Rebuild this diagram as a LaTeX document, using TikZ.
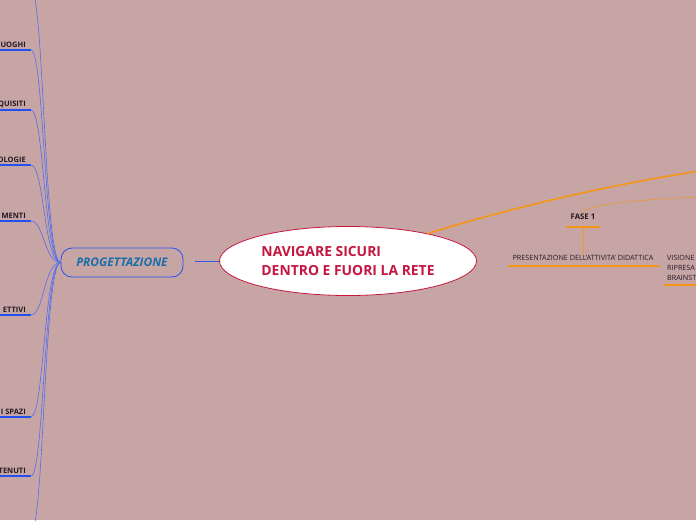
\documentclass[tikz,border=0pt]{standalone}
\usepackage{fontspec}
\setmainfont{Open Sans}
\usetikzlibrary{positioning, shapes.geometric}
\definecolor{nsbg}{RGB}{200,165,165}
\definecolor{nsred}{RGB}{196,22,62}
\definecolor{nsblue}{RGB}{35,80,240}
\definecolor{nsline}{RGB}{80,110,240}
\definecolor{nsteal}{RGB}{25,110,170}
\definecolor{nsorange}{RGB}{245,150,20}
\definecolor{nsdark}{RGB}{35,25,35}

\begin{document}
\begin{tikzpicture}[x=1pt, y=-1pt,
    centro/.style={ellipse, draw=nsred, fill=white, line width=0.8pt, minimum width=257pt, minimum height=69pt, inner sep=0pt, align=left, text=nsred, font=\bfseries\fontsize{13.9}{19}\selectfont},
    tema/.style={rectangle, rounded corners=11pt, draw=nsblue, line width=0.8pt, minimum width=122pt, minimum height=29pt, text=nsteal, font=\bfseries\itshape\fontsize{11.9}{13}\selectfont},
    ramo/.style={nsline, line width=0.6pt},
    sottolinea/.style={nsblue, line width=2pt},
    voce/.style={anchor=south east, inner sep=1pt, text=nsdark, font=\bfseries\fontsize{7.5}{9}\selectfont},
    ramoarancio/.style={nsorange, line width=1.6pt},
    filoarancio/.style={nsorange!80!nsbg, line width=0.6pt},
    lineaarancio/.style={nsorange, line width=2pt},
    piccolo/.style={inner sep=0pt, text=nsdark, font=\fontsize{7.2}{10}\selectfont}]

\useasboundingbox (0,0) rectangle (696,520);
\clip (0,0) rectangle (696,520);
\fill[nsbg] (0,0) rectangle (696,520);

% === Nodo centrale ===
\node[centro] (rete) at (348,261) {NAVIGARE SICURI\\DENTRO E FUORI LA RETE};

% === Progettazione ===
\node[tema] (prog) at (122,262.5) {PROGETTAZIONE};
\coordinate (attacco) at (195,261.5);
\draw[draw={rgb,255:red,50;green,90;blue,235}, line width=1.3pt] (attacco) -- (rete.west |- attacco);

% Rami a sinistra
\foreach \y/\testo/\nome in {50/UOGHI/luoghi, 110/QUISITI/requisiti, 165/OLOGIE/metodologie,
    221/MENTI/strumenti, 315/ETTIVI/obiettivi, 417/I SPAZI/spazi, 476/TENUTI/contenuti} {
    \coordinate (\nome) at (31,\y);
    \coordinate (\nome-0) at (0,\y);
    \node[voce] (\nome-t) at (27,\y-1.5) {\testo};
    \draw[sottolinea] (\nome-0) -- (\nome);
    \draw[ramo] (\nome) .. controls +(13,0) and (44,262) .. (prog.west);
}
% rami fuori dal foglio
\coordinate (sopra) at (31,-10);
\coordinate (sotto) at (31,532);
\draw[ramo] (sopra) .. controls +(13,0) and (44,262) .. (prog.west);
\draw[ramo] (sotto) .. controls +(13,0) and (44,262) .. (prog.west);

% === Rami a destra ===
\coordinate (uscita) at (700,171);
\draw[ramoarancio] (rete.19) .. controls (520,205) and (620,183) .. (uscita);

\node[voce, anchor=center, font=\bfseries\fontsize{7.8}{9}\selectfont] (fase) at (583,217) {FASE 1};
\coordinate (fase-a) at (566,226.5);
\coordinate (fase-b) at (600,226.5);
\draw[lineaarancio] (fase-a) -- (fase-b);
\coordinate (uscita2) at (700,197);
\draw[filoarancio] (fase.north) .. controls +(0,-6) and (620,200) .. (uscita2);

\node[piccolo] (presenta) at (583,258) {PRESENTAZIONE DELL'ATTIVITA' DIDATTICA};
\coordinate (presenta-a) at (508,266);
\coordinate (presenta-b) at (659,266);
\draw[lineaarancio] (presenta-a) -- (presenta-b);
\draw[filoarancio] (583,228) -- (presenta.north);

\node[piccolo, anchor=west, align=left] (visione) at (667,268) {VISIONE\\RIPRESA\\BRAINST};
\coordinate (visione-a) at (664,285);
\coordinate (visione-b) at (700,285);
\draw[lineaarancio] (visione-a) -- (visione-b);

\end{tikzpicture}
\end{document}
